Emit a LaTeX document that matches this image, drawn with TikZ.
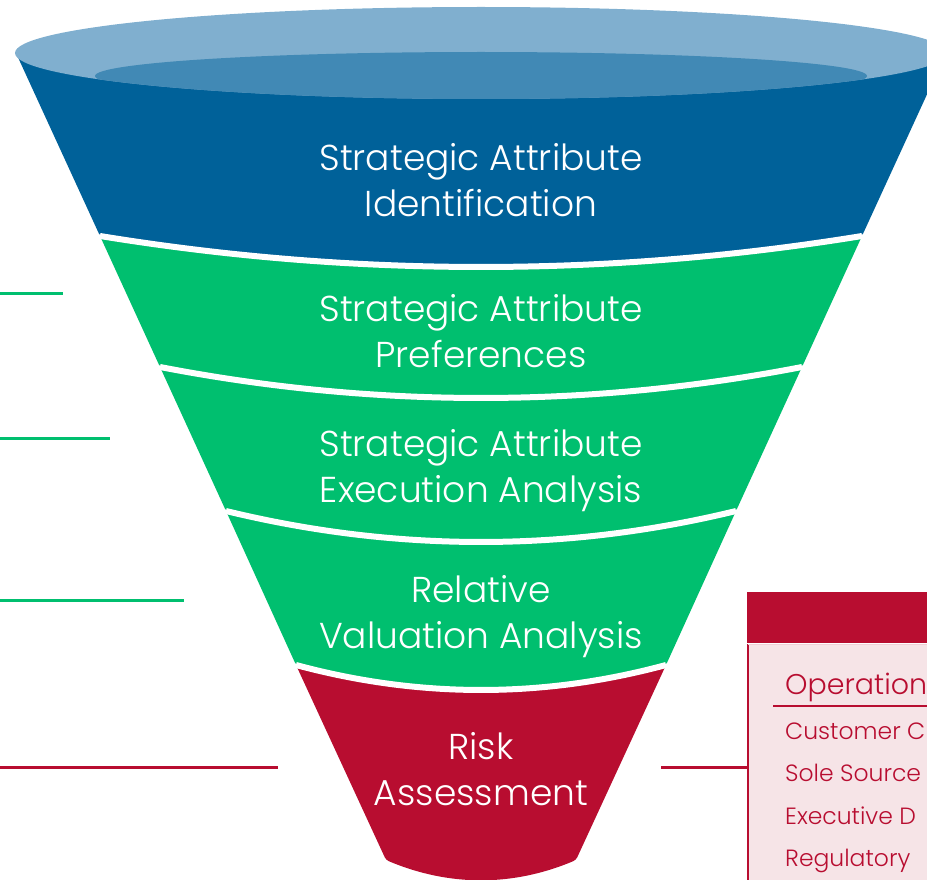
\documentclass[tikz,border=0pt]{standalone}
\usepackage{fontspec}
\newfontfamily\lightfont{Poppins Light}
\definecolor{rimlight}{RGB}{128,175,207}
\definecolor{rimdark}{RGB}{65,137,181}
\definecolor{fblue}{RGB}{0,97,153}
\definecolor{fgreen}{RGB}{0,191,111}
\definecolor{fred}{RGB}{184,13,48}
\definecolor{fpink}{RGB}{246,228,231}
\tikzset{
  ftext/.style={text=white, font=\lightfont\fontsize{36}{46}\selectfont, align=center, inner sep=0pt},
  sep/.style={white, line width=6pt},
  gline/.style={fgreen, line width=3pt},
  rline/.style={fred, line width=3pt},
  boxtext/.style={text=fred, font=\lightfont\fontsize{23.5}{28}\selectfont, anchor=base west, inner sep=0pt},
}
\begin{document}
\begin{tikzpicture}[x=1pt,y=-1pt]
\useasboundingbox (0,0) rectangle (927,880);
\begin{scope}
\clip (0,0) rectangle (927,880);
% funnel bands
\fill[fblue, rounded corners=3pt] (16,53) -- (100,236) .. controls (354,277.3) and (608,277.3) .. (862,236) -- (946,53) -- cycle;
\fill[fgreen, rounded corners=3pt] (100,236) .. controls (354,277.3) and (608,277.3) .. (862,236) -- (802,367) .. controls (588,408.3) and (374,408.3) .. (160,367) -- cycle;
\fill[fgreen, rounded corners=3pt] (160,367) .. controls (374,408.3) and (588,408.3) .. (802,367) -- (736,511) .. controls (566,552.3) and (396,552.3) .. (226,511) -- cycle;
\fill[fgreen, rounded corners=3pt] (226,511) .. controls (396,552.3) and (566,552.3) .. (736,511) -- (666,665) .. controls (542.7,698.3) and (419.3,698.3) .. (296,665) -- cycle;
\fill[fred, rounded corners=3pt] (296,665) .. controls (419.3,698.3) and (542.7,698.3) .. (666,665) -- (576,860) .. controls (512.7,886.7) and (449.3,886.7) .. (386,860) -- cycle;
% separators
\draw[sep] (100,236) .. controls (354,277.3) and (608,277.3) .. (862,236);
\draw[sep] (160,367) .. controls (374,408.3) and (588,408.3) .. (802,367);
\draw[sep] (226,511) .. controls (396,552.3) and (566,552.3) .. (736,511);
\draw[sep] (296,665) .. controls (419.3,698.3) and (542.7,698.3) .. (666,665);
% rim
\fill[rimlight] (481,53) ellipse [x radius=466, y radius=46];
\begin{scope}
\clip (481,53) ellipse [x radius=466, y radius=46];
\fill[rimdark] (481,76) ellipse [x radius=386, y radius=24];
\end{scope}
% texts
\node[ftext] (t1) at (481,180) {Strategic Attribute\\Identification};
\node[ftext] (t2) at (481,331.5) {Strategic Attribute\\Preferences};
\node[ftext] (t3) at (481,471) {Strategic Attribute\\Execution Analysis};
\node[ftext] (t4) at (481,617) {Relative\\Valuation Analysis};
\node[ftext] (t5) at (481,769) {Risk\\Assessment};
% left lines
\coordinate (l1a) at (0,293); \coordinate (l1b) at (63,293);
\coordinate (l2a) at (0,438); \coordinate (l2b) at (110,438);
\coordinate (l3a) at (0,600); \coordinate (l3b) at (184,600);
\coordinate (l4a) at (0,767); \coordinate (l4b) at (278,767);
\draw[gline] (l1a) -- (l1b);
\draw[gline] (l2a) -- (l2b);
\draw[gline] (l3a) -- (l3b);
\draw[rline] (l4a) -- (l4b);
% risk box
\fill[fpink] (748,644) rectangle (940,900);
\draw[fred, line width=2pt] (748,644) -- (748,900);
\fill[fred] (747,592) rectangle (940,643);
\draw[white!80!fred, line width=1pt] (748,644) -- (940,644);
\coordinate (boxin) at (747,767);
\coordinate (riskout) at (661,767);
\draw[rline] (riskout) -- (boxin);
\node[boxtext, font=\lightfont\fontsize{28.5}{34}\selectfont] (op) at (785,694) {Operation};
\draw[fred, line width=2.5pt] (773,706) -- (940,706);
\node[boxtext] (b1) at (785,739) {Customer C};
\node[boxtext] (b2) at (785,781) {Sole Source};
\node[boxtext] (b3) at (785,824) {Executive D};
\node[boxtext] (b4) at (785,866) {Regulatory};
\end{scope}
\end{tikzpicture}
\end{document}
